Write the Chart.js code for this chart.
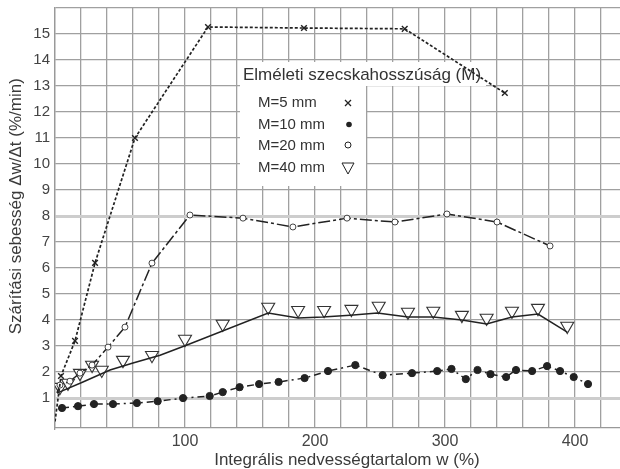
<!DOCTYPE html>
<html><head><meta charset="utf-8">
<script src="https://cdn.jsdelivr.net/npm/chart.js@4.4.0/dist/chart.umd.min.js"></script>
<style>html,body{margin:0;padding:0;background:#fff;overflow:hidden}canvas{display:block}</style>
</head><body><canvas id="c" width="620" height="469"></canvas>
<script>
// ---- data ----
const xTickLabels = [100, 200, 300, 400];
const yTickLabels = [1,2,3,4,5,6,7,8,9,10,11,12,13,14,15];
const xGridValues = [0,20,40,60,80,100,120,140,160,180,200,220,240,260,280,300,320,340,360,380,400,420];
const yGridValues = [1,2,3,4,5,6,7,8,9,10,11,12,13,14,15,16];
const xTitle = 'Integrális nedvességtartalom w (%)';
const yTitle = 'Szárítási sebesség Δw/Δt (%/min)';
const legendTitle = 'Elméleti szecskahosszúság (M)';
const seriesNames = ['M=5 mm', 'M=10 mm', 'M=20 mm', 'M=40 mm'];

const m5X = [0, 4.6, 15.4, 30.8, 61.5, 117.7, 191.5, 269, 346];
const m5Y = [0.1, 1.85, 3.2, 6.2, 11.0, 15.27, 15.23, 15.2, 12.73];

const m10X = [5.4, 17.7, 30, 44.6, 63, 79, 98.5, 119, 129, 142, 157, 172, 192, 210, 231, 252, 274.6, 294, 305, 316, 325, 335, 347, 354.6, 367, 378.5, 388.5, 399, 410];
const m10Y = [0.62, 0.69, 0.77, 0.77, 0.81, 0.88, 1.0, 1.08, 1.23, 1.42, 1.54, 1.62, 1.77, 2.04, 2.27, 1.88, 1.96, 2.04, 2.12, 1.73, 2.08, 1.92, 1.81, 2.08, 2.04, 2.23, 2.04, 1.81, 1.54];

const m20X = [1.5, 3.8, 11.5, 19.2, 28.5, 40.8, 53.8, 74.6, 103.8, 144.6, 183, 224.6, 261.5, 301.5, 340, 380.8];
const m20Y = [1.2, 1.5, 1.65, 1.96, 2.27, 2.96, 3.73, 6.19, 8.04, 7.92, 7.58, 7.92, 7.77, 8.08, 7.77, 6.85];

const m40X = [3.8, 10, 19.2, 28.5, 36, 52.3, 74.6, 100, 129, 164, 187, 207, 228, 249, 271.5, 291, 313, 332, 351.5, 371.5, 394];
const m40Y = [1.42, 1.58, 1.96, 2.27, 2.08, 2.46, 2.65, 3.27, 3.85, 4.5, 4.38, 4.38, 4.42, 4.54, 4.31, 4.35, 4.19, 4.08, 4.35, 4.46, 3.77];

const m40FitX = [1.5, 21.5, 42.3, 60, 80.8, 101.5, 164, 187, 206, 227, 248, 271.5, 291, 313, 332, 351.5, 371.5, 394];
const m40FitY = [1.19, 1.62, 2.08, 2.35, 2.65, 3.04, 4.27, 4.08, 4.12, 4.19, 4.27, 4.12, 4.12, 4.0, 3.85, 4.12, 4.23, 3.54];

const pts = (xs, ys) => xs.map((x, i) => ({x, y: ys[i]}));
const INK = '#222';
const FONT = '"Liberation Sans", Arial, Helvetica, sans-serif';

const legendPlugin = {
  id: 'boxLegend',
  beforeDatasetsDraw(chart) {
    const ctx = chart.ctx;
    ctx.save();
    ctx.fillStyle = '#fff';
    ctx.fillRect(240, 62, 246, 24);
    ctx.fillRect(240, 62, 126, 124);
    ctx.fillStyle = '#333';
    ctx.textBaseline = 'middle';
    ctx.textAlign = 'left';
    ctx.font = '17px ' + FONT;
    ctx.fillText(legendTitle, 243, 75);
    ctx.font = '15px ' + FONT;
    const ys = [103, 124.5, 146, 168];
    seriesNames.forEach((n, i) => ctx.fillText(n, 258, ys[i]));
    const mx = 348;
    ctx.strokeStyle = INK; ctx.fillStyle = INK; ctx.lineWidth = 1.3;
    ctx.beginPath();
    ctx.moveTo(mx - 3, ys[0] - 3); ctx.lineTo(mx + 3, ys[0] + 3);
    ctx.moveTo(mx + 3, ys[0] - 3); ctx.lineTo(mx - 3, ys[0] + 3);
    ctx.stroke();
    ctx.beginPath(); ctx.arc(mx + 1, ys[1], 2.8, 0, Math.PI * 2); ctx.fill();
    ctx.lineWidth = 1;
    ctx.beginPath(); ctx.arc(mx, ys[2] - 1, 3, 0, Math.PI * 2); ctx.stroke();
    ctx.beginPath();
    ctx.moveTo(mx - 6, ys[3] - 5); ctx.lineTo(mx + 6, ys[3] - 5); ctx.lineTo(mx, ys[3] + 6); ctx.closePath();
    ctx.stroke();
    ctx.restore();
  }
};

new Chart(document.getElementById('c'), {
  type: 'scatter',
  data: {
    datasets: [
      { label: seriesNames[0], data: pts(m5X, m5Y), showLine: true, borderColor: INK, borderWidth: 1.7,
        borderDash: [3, 2], pointStyle: 'crossRot', pointRadius: m5X.map((v, i) => i === 0 ? 0 : 4),
        pointBorderColor: INK, pointBorderWidth: 1.4, backgroundColor: INK },
      { label: seriesNames[1], data: pts(m10X, m10Y), showLine: true, borderColor: INK, borderWidth: 1.5,
        borderDash: [7, 4, 2, 4], pointStyle: 'circle', pointRadius: 3.6,
        pointBackgroundColor: INK, pointBorderColor: INK, pointBorderWidth: 1 },
      { label: seriesNames[2], data: pts(m20X, m20Y), showLine: true, borderColor: INK, borderWidth: 1.5,
        borderDash: [12, 3, 3, 3], pointStyle: 'circle', pointRadius: m20X.map((v, i) => i === 0 ? 0 : 3),
        pointBackgroundColor: '#fff', pointBorderColor: '#444', pointBorderWidth: 1 },
      { label: seriesNames[3] + ' fit', data: pts(m40FitX, m40FitY), showLine: true, borderColor: INK, borderWidth: 1.5,
        pointRadius: 0 },
      { label: seriesNames[3], data: pts(m40X, m40Y), showLine: false, pointStyle: 'triangle', rotation: 180,
        pointRadius: 7.5, pointBackgroundColor: 'rgba(255,255,255,0.9)', pointBorderColor: '#333', pointBorderWidth: 1.1 }
    ]
  },
  options: {
    responsive: false, animation: false, devicePixelRatio: 1,
    layout: { autoPadding: false, padding: { top: 8, right: 0, left: 0, bottom: 0 } },
    plugins: { legend: { display: false }, tooltip: { enabled: false } },
    scales: {
      x: {
        type: 'linear', min: 0, max: 434.6,
        afterFit: s => { s.height = 41; s.paddingRight = 0; s.paddingLeft = 0; },
        afterBuildTicks: s => { s.ticks = xGridValues.map(v => ({value: v})); },
        grid: { color: '#a0a0a0', lineWidth: 1.3, drawTicks: false },
        border: { color: '#999', width: 1.3 },
        ticks: { autoSkip: false, maxRotation: 0, padding: 4, color: '#444',
          font: { family: FONT, size: 16 },
          callback: v => xTickLabels.includes(v) ? String(v) : '' },
        title: { display: true, text: '    ' + xTitle, color: '#3a3a3a',
          font: { family: FONT, size: 17, lineHeight: 1 }, padding: { top: 0, bottom: 0 } }
      },
      y: {
        type: 'linear', min: -0.15, max: 16,
        afterFit: s => { s.width = 55; s.paddingTop = 0; s.paddingBottom = 0; },
        afterBuildTicks: s => { s.ticks = yGridValues.map(v => ({value: v})); },
        grid: { drawTicks: false,
          color: c => (c.tick && (c.tick.value === 1 || c.tick.value === 8)) ? '#cdcdcd' : '#a0a0a0',
          lineWidth: c => (c.tick && (c.tick.value === 1 || c.tick.value === 8)) ? 3 : 1.3 },
        border: { color: '#999', width: 1.3 },
        ticks: { autoSkip: false, padding: 5, color: '#444',
          font: { family: FONT, size: 15 },
          callback: v => yTickLabels.includes(v) ? String(v) : '' },
        title: { display: true, text: '     ' + yTitle, color: '#3a3a3a',
          font: { family: FONT, size: 17, lineHeight: 1 }, padding: { top: 7.5, bottom: 0 } }
      }
    }
  },
  plugins: [legendPlugin]
});
</script>
</body></html>
